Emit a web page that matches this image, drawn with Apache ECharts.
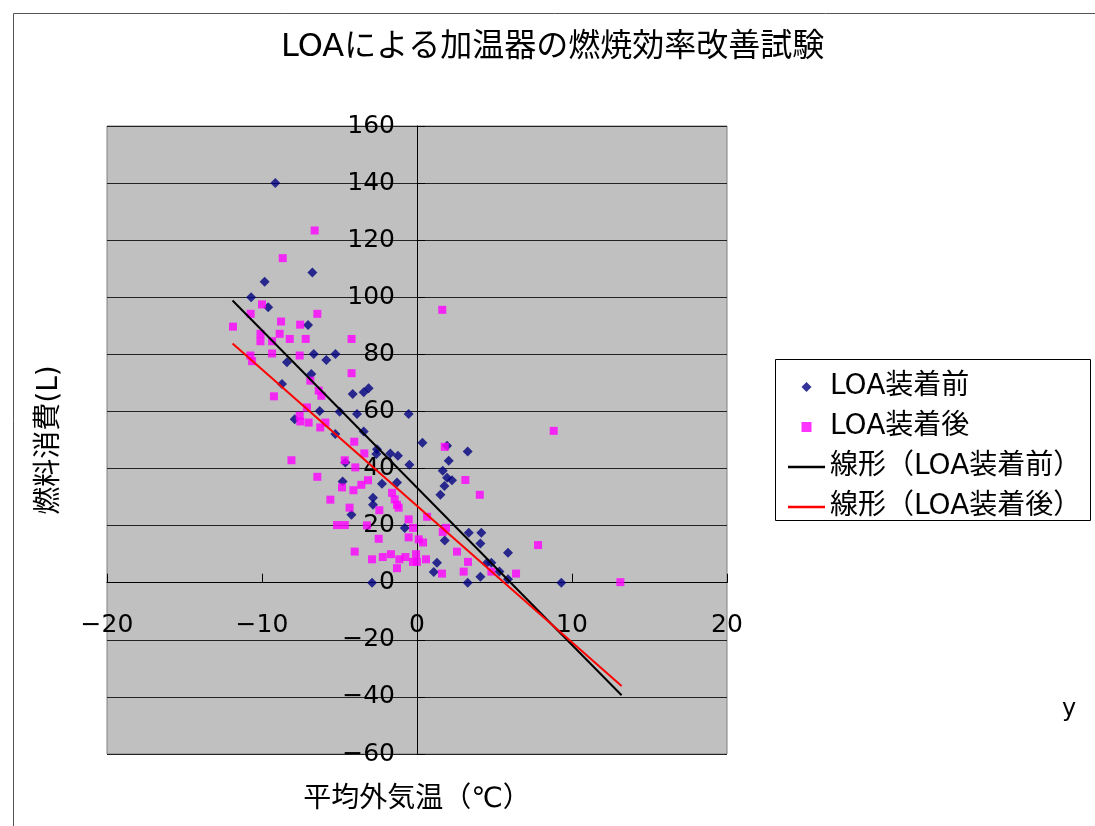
<!DOCTYPE html>
<html>
<head>
<meta charset="utf-8">
<script src="https://cdn.jsdelivr.net/npm/echarts@6/dist/echarts.min.js"></script>
<style>
html, body { margin: 0; padding: 0; background: #fff; }
#main { width: 1095px; height: 826px; }
</style>
</head>
<body>
<div id="main"></div>
<script>
var FONT = '"DejaVu Sans", "Noto Sans CJK JP", sans-serif';

// LOA装着前 [平均外気温, 燃料消費]
var beforeData = [
	[-9.14, 140], [-6.75, 108.7], [-9.83, 105.4], [-10.7, 100], [-9.6, 96.5],
	[-7.03, 90.3], [-6.66, 80.1], [-5.85, 78], [-5.26, 80.1], [-8.39, 77.2],
	[-6.82, 73.1], [-8.71, 69.6], [-4.15, 66.1], [-3.44, 66.7], [-3.12, 68.1],
	[-6.28, 60.2], [-4.99, 59.9], [-3.87, 59.1], [-0.54, 59.1], [-7.89, 57.3],
	[-5.27, 52.1], [-3.44, 53], [0.35, 49], [-4.62, 42.1], [-4.8, 35.5],
	[-4.23, 23.8], [-2.58, 46.8], [-2.62, 45.1], [-1.72, 45.3], [-1.23, 44.5],
	[-0.49, 41.3], [-2.26, 34.7], [-1.29, 35.1], [-2.84, 29.8], [-2.84, 27.3],
	[-0.79, 19.2], [1.29, 7], [1.08, 3.8], [-2.9, 0], [1.94, 48],
	[3.27, 46], [2.05, 42.7], [1.66, 39.2], [1.94, 36.8], [2.26, 35.9],
	[1.77, 33.9], [1.51, 30.8], [3.34, 17.5], [4.15, 17.5], [1.79, 14.8],
	[4.09, 13.7], [5.87, 10.5], [4.52, 7], [4.8, 7], [5.32, 3.9],
	[4.09, 2.1], [5.87, 1.2], [3.27, 0], [9.31, 0]
];

// LOA装着後 [平均外気温, 燃料消費]
var afterData = [
	[-6.6, 123.4], [-8.66, 113.7], [-10, 97.5], [-10.73, 94.2], [-6.43, 94.2],
	[-11.87, 89.7], [-8.77, 91.5], [-7.54, 90.4], [-10.1, 87.2], [-8.86, 87.2],
	[-10.1, 84.6], [-9.35, 84.6], [-8.21, 85.4], [-7.18, 85.4], [-4.22, 85.4],
	[-9.35, 80.3], [-7.57, 79.6], [-10.75, 79.6], [-10.64, 77.6], [-4.22, 73.4],
	[-6.88, 70.8], [-6.34, 67.3], [-6.17, 65.5], [-9.23, 65.3], [-7.1, 61.4],
	[-7.57, 58.5], [-7.53, 56.5], [-6.99, 56.1], [-6.24, 54.4], [-5.91, 56.1],
	[1.63, 95.6], [-4.05, 49.4], [-8.1, 42.9], [-4.66, 42.9], [-3.98, 40.4],
	[-6.43, 37.1], [-4.84, 33.4], [-4.1, 32.4], [-5.59, 29.1], [-4.35, 26.3],
	[-5.16, 20.2], [-4.66, 20.2], [-4.02, 10.9], [-3.4, 45.3], [1.79, 47.6],
	[-3.16, 35.9], [-3.59, 34.3], [-1.61, 31.5], [-1.44, 29.2], [-1.29, 27.3],
	[-1.18, 26.3], [-2.43, 25.4], [-0.54, 22.2], [0.65, 23.1], [-0.26, 19.2],
	[-3.23, 20.1], [-2.47, 15.4], [-0.54, 15.9], [0.11, 15.2], [0.39, 14.1],
	[-2.9, 8.2], [-2.21, 9], [-1.68, 10], [-1.14, 8.2], [-0.75, 9],
	[-0.06, 10], [0.58, 8.2], [-0.26, 7.3], [0, 7.3], [-1.29, 5.1],
	[1.61, 3.2], [8.82, 53.2], [3.12, 36], [4.05, 30.8], [1.87, 19.2],
	[1.66, 17.8], [2.58, 10.9], [7.81, 13.2], [3.29, 7.3], [3.01, 3.9],
	[4.8, 3.9], [6.39, 3.2], [13.12, 0.2]
];

// 線形近似 [切片, 傾き] と x の範囲
var trendRange = [-11.9, 13.2];
var trendBefore = [33.3, -5.51];
var trendAfter = [26.9, -4.78];

var seriesNames = ['LOA装着前', 'LOA装着後', '線形（LOA装着前）', '線形（LOA装着後）'];

function trendLine(coef) {
	return trendRange.map(function (x) {
		return [x, coef[0] + coef[1] * x];
	});
}

function minus(v) {
	return String(v).replace('-', '\u2212');
}

var chartDom = document.getElementById('main');
var myChart = echarts.init(chartDom);
var option;

option = {
	animation: false,
	backgroundColor: '#fff',
	title: {
		text: 'LOAによる加温器の燃焼効率改善試験',
		left: 281,
		top: 32,
		padding: 0,
		textStyle: {
			fontFamily: FONT,
			fontSize: 32,
			fontWeight: 'normal',
			color: '#000'
		}
	},
	legend: {
		orient: 'vertical',
		left: 783,
		top: 368,
		itemWidth: 37,
		itemHeight: 10,
		itemGap: 12,
		symbolKeepAspect: true,
		textStyle: {
			fontFamily: FONT,
			fontSize: 28,
			lineHeight: 28,
			color: '#000'
		},
		data: [
			{ name: seriesNames[0], icon: 'path://M0,-1L1,0L0,1L-1,0Z' },
			{ name: seriesNames[1], icon: 'path://M0,0H1V1H0Z' },
			{ name: seriesNames[2], icon: 'path://M0,0H37V2.5H0Z' },
			{ name: seriesNames[3], icon: 'path://M0,0H37V2.5H0Z' }
		]
	},
	grid: {
		left: 107,
		top: 126,
		width: 620,
		height: 628,
		containLabel: false,
		outerBoundsMode: 'none',
		show: true,
		backgroundColor: '#c0c0c0',
		borderColor: '#808080',
		borderWidth: 1
	},
	xAxis: {
		type: 'value',
		min: -20,
		max: 20,
		interval: 10,
		name: '平均外気温（℃）',
		nameLocation: 'middle',
		nameGap: 32,
		nameTextStyle: { fontFamily: FONT, fontSize: 28, color: '#000' },
		axisLine: { onZero: true, lineStyle: { color: '#000', width: 1 } },
		axisTick: { inside: true, length: 9, lineStyle: { color: '#000' } },
		axisLabel: {
			// labels sit below the zero line, not the plot edge
			margin: -141,
			fontFamily: FONT,
			fontSize: 25,
			color: '#000',
			formatter: minus
		},
		splitLine: { show: false }
	},
	yAxis: {
		type: 'value',
		min: -60,
		max: 160,
		interval: 20,
		name: '燃料消費(L)',
		nameLocation: 'middle',
		nameGap: 43,
		nameTextStyle: { fontFamily: FONT, fontSize: 28, color: '#000' },
		axisLine: { onZero: true, lineStyle: { color: '#000', width: 1 } },
		axisTick: { inside: true, length: 8, lineStyle: { color: '#000' } },
		axisLabel: {
			// labels sit left of the zero line
			margin: -288,
			fontFamily: FONT,
			fontSize: 25,
			color: '#000',
			formatter: minus
		},
		splitLine: { show: true, lineStyle: { color: '#222', width: 1 } }
	},
	series: [
		{
			name: seriesNames[0],
			type: 'scatter',
			symbol: 'diamond',
			symbolSize: 10,
			itemStyle: { color: '#000080' },
			data: beforeData
		},
		{
			name: seriesNames[1],
			type: 'scatter',
			symbol: 'rect',
			symbolSize: 8,
			itemStyle: { color: '#ff00ff' },
			data: afterData
		},
		{
			name: seriesNames[2],
			type: 'line',
			symbol: 'none',
			showSymbol: false,
			z: 5,
			itemStyle: { color: '#000' },
			lineStyle: { color: '#000', width: 2 },
			data: trendLine(trendBefore)
		},
		{
			name: seriesNames[3],
			type: 'line',
			symbol: 'none',
			showSymbol: false,
			z: 5,
			itemStyle: { color: '#ff0000' },
			lineStyle: { color: '#ff0000', width: 2 },
			data: trendLine(trendAfter)
		}
	],
	graphic: [
		{
			type: 'rect',
			shape: { x: 13.5, y: 13.5, width: 1100, height: 850 },
			style: { fill: null, stroke: '#555', lineWidth: 1 },
			silent: true
		},
		{
			type: 'rect',
			shape: { x: 775.5, y: 359.5, width: 315, height: 161 },
			style: { fill: '#fff', stroke: '#000', lineWidth: 1 },
			z: -1,
			silent: true
		},
		{
			type: 'text',
			left: 1062,
			top: 698,
			style: { text: 'y', fontFamily: FONT, fontSize: 24, fill: '#000' }
		}
	]
};

option && myChart.setOption(option);
</script>
</body>
</html>
